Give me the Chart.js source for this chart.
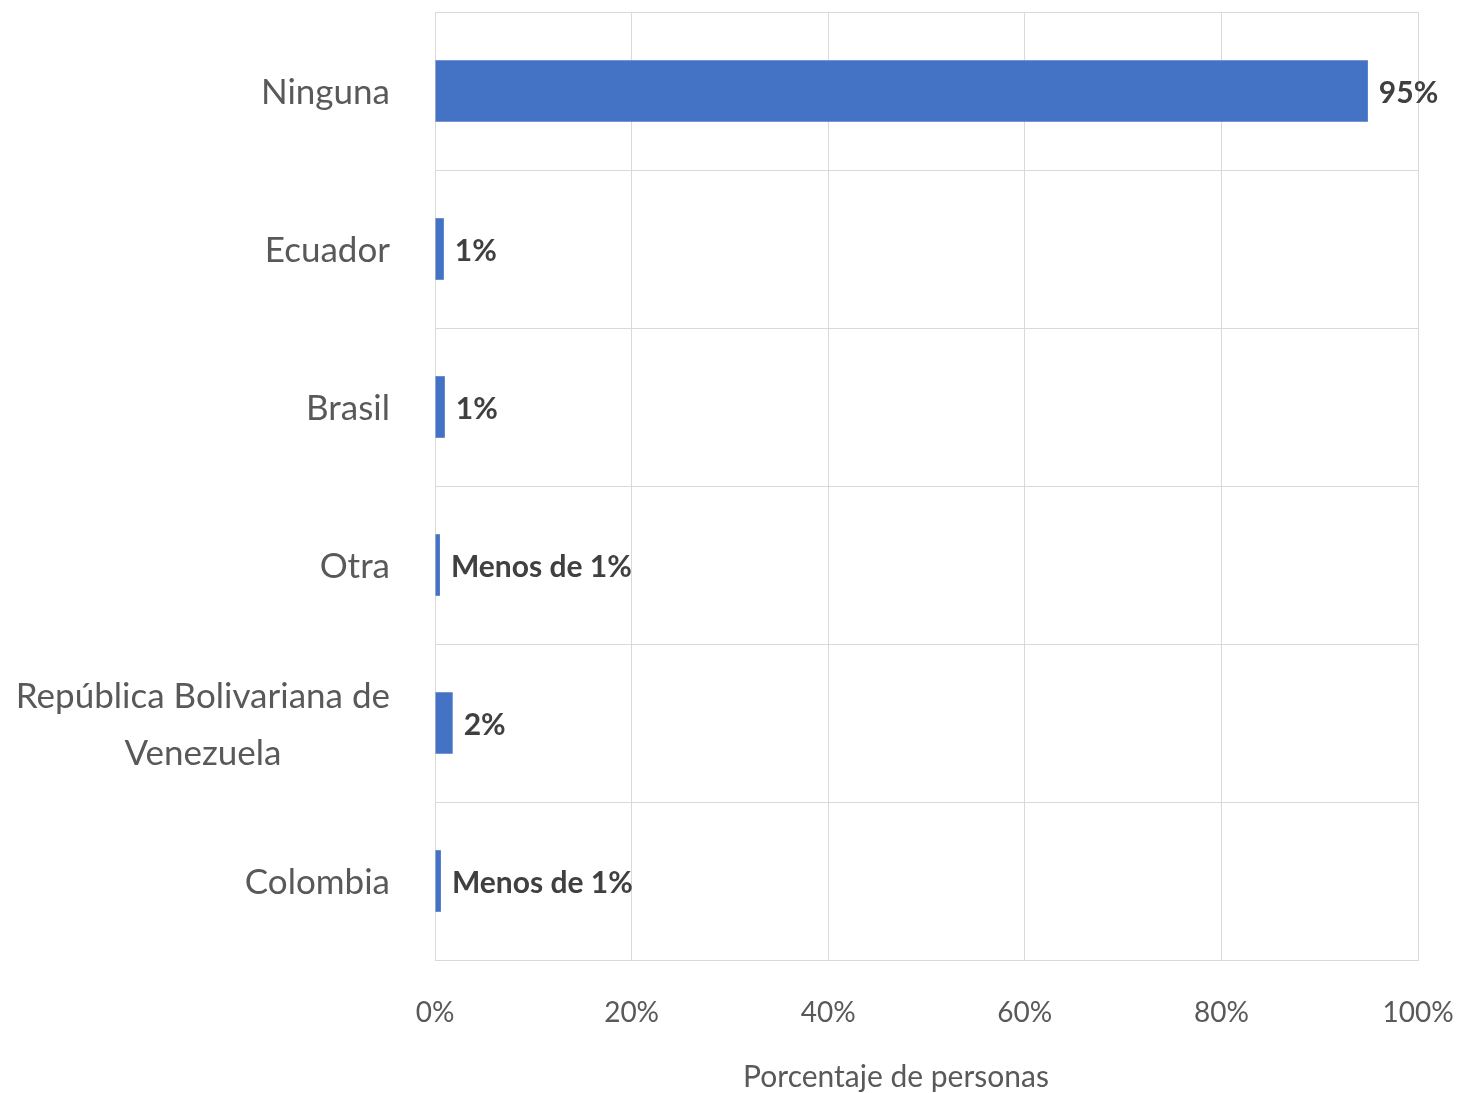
<!DOCTYPE html>
<html>
<head>
<meta charset="utf-8">
<script src="https://cdn.jsdelivr.net/npm/chart.js@4"></script>
<style>
  html, body { margin: 0; padding: 0; background: #fff; }
  #wrap { width: 1457px; height: 1093px; }
</style>
</head>
<body>
<div id="wrap"><canvas id="barChart"></canvas></div>
<script>
const categories = ["Ninguna", "Ecuador", "Brasil", "Otra", ["República Bolivariana de", "Venezuela"], "Colombia"];
const values = [94.9, 0.9, 1.0, 0.5, 1.8, 0.6];
const valueLabels = ["95%", "1%", "1%", "Menos de 1%", "2%", "Menos de 1%"];
const xTicks = [0, 20, 40, 60, 80, 100];
const xTitle = "Porcentaje de personas";

const FONT = "Lato, 'Open Sans', sans-serif";
const GRID = "#d9d9d9";

// category labels: right aligned, wrapped ones centered on their widest line
const catLabels = {
  id: "catLabels",
  afterDraw(chart) {
    const ctx = chart.ctx;
    const y = chart.scales.y;
    ctx.save();
    ctx.font = "35px " + FONT;
    ctx.fillStyle = "#595959";
    ctx.textBaseline = "middle";
    const right = 390;
    categories.forEach(function(lab, i) {
      const cy = y.getPixelForValue(i);
      if (Array.isArray(lab)) {
        const widest = Math.max.apply(null, lab.map(function(s) { return ctx.measureText(s).width; }));
        const lh = 57;
        ctx.textAlign = "center";
        lab.forEach(function(s, k) {
          ctx.fillText(s, right - widest / 2, cy + (k - (lab.length - 1) / 2) * lh + 2);
        });
      } else {
        ctx.textAlign = "right";
        ctx.fillText(lab, right, cy + 2);
      }
    });
    // axis title, sits a bit left of the plot centre like the original
    ctx.font = "30px " + FONT;
    ctx.textAlign = "center";
    ctx.fillText(xTitle, 896, 1077);
    ctx.restore();
  }
};

// value labels at the end of each bar
const valLabels = {
  id: "valLabels",
  afterDatasetsDraw(chart) {
    const ctx = chart.ctx;
    const meta = chart.getDatasetMeta(0);
    ctx.save();
    ctx.font = "bold 30px " + FONT;
    ctx.fillStyle = "#404040";
    ctx.textAlign = "left";
    ctx.textBaseline = "middle";
    meta.data.forEach(function(bar, i) {
      ctx.fillText(valueLabels[i], bar.x + 11, bar.y + 2);
    });
    ctx.restore();
  }
};

let barChart = new Chart(document.getElementById("barChart"), {
  type: "bar",
  data: {
    labels: categories,
    datasets: [
      {
        label: xTitle,
        data: values,
        backgroundColor: "#4472c4",
        borderWidth: 0,
        barPercentage: 0.39,
        categoryPercentage: 1
      }
    ]
  },
  options: {
    indexAxis: "y",
    responsive: true,
    maintainAspectRatio: false,
    animation: false,
    layout: { padding: { top: 12, right: 0, bottom: 0, left: 0 } },
    plugins: {
      legend: { display: false },
      tooltip: { enabled: false }
    },
    scales: {
      x: {
        min: 0,
        max: 100,
        afterBuildTicks: function(scale) {
          scale.ticks = xTicks.map(function(v) { return { value: v }; });
        },
        afterFit: function(scale) {
          scale.height = 133;
          scale.paddingLeft = 0;
          scale.paddingRight = 39;
        },
        grid: { color: GRID, lineWidth: 1, drawTicks: false },
        border: { color: GRID },
        ticks: {
          padding: 36,
          color: "#595959",
          font: { family: FONT, size: 28 },
          maxRotation: 0,
          callback: function(v) { return v + "%"; }
        }
      },
      y: {
        grid: { color: GRID, lineWidth: 1, drawTicks: false, offset: true },
        border: { color: GRID },
        ticks: { display: false },
        afterFit: function(scale) { scale.width = 435; }
      }
    }
  },
  plugins: [catLabels, valLabels]
});
</script>
</body>
</html>
